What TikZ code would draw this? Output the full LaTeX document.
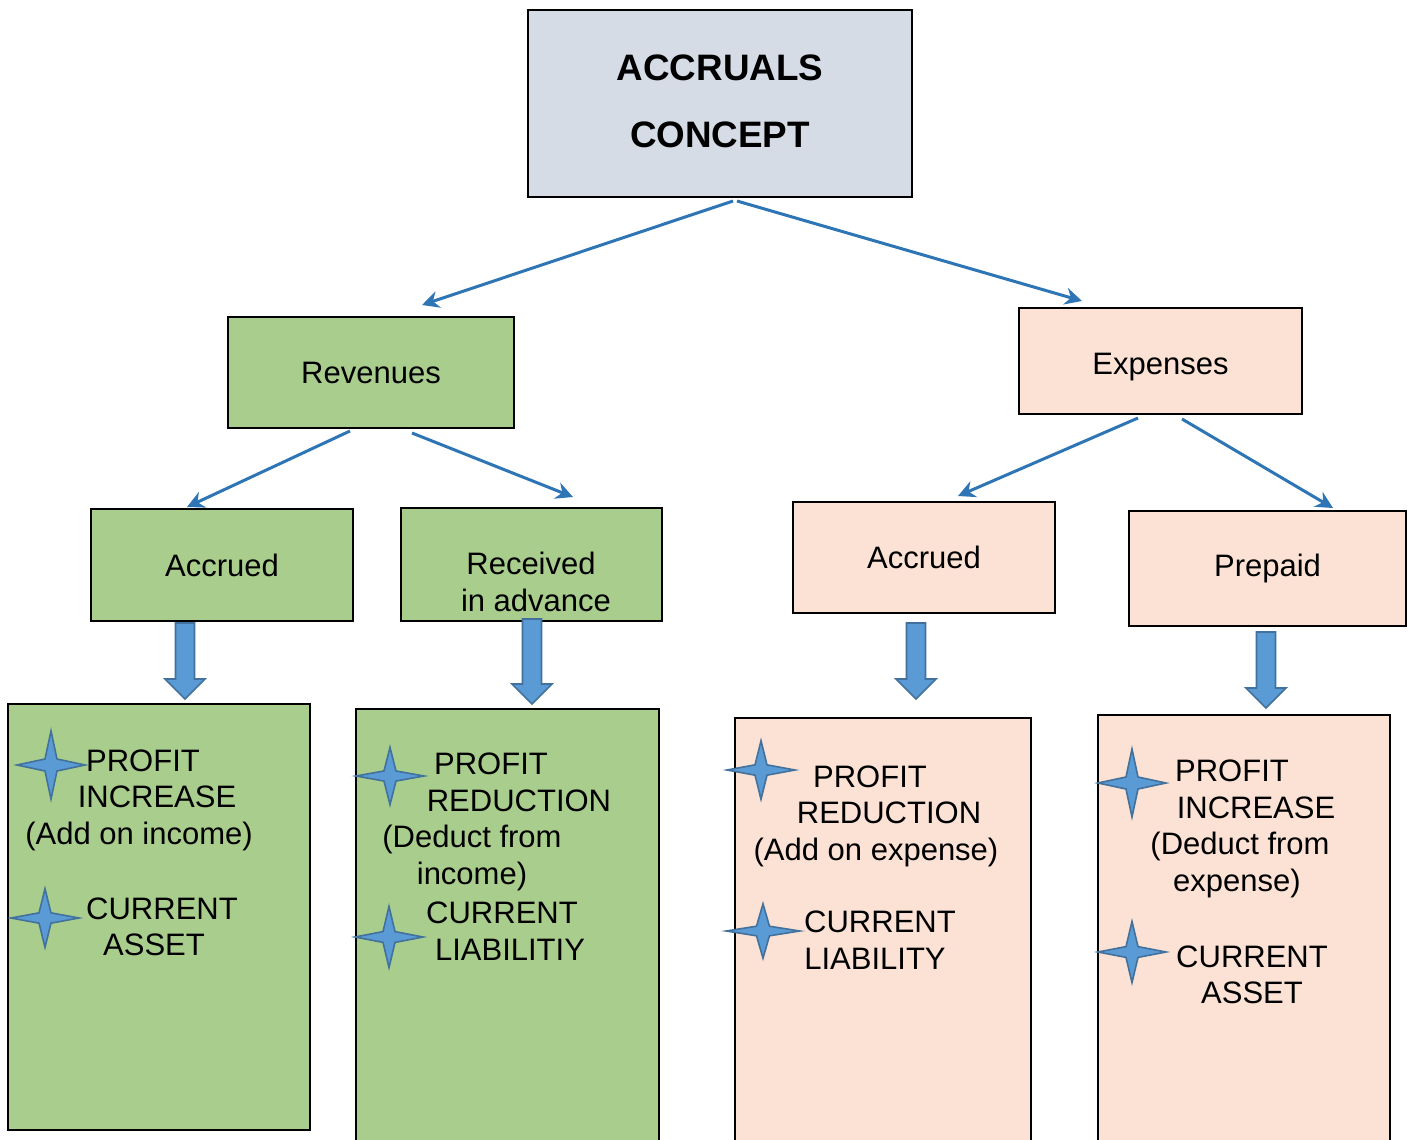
\documentclass[tikz,border=0pt]{standalone}
\usepackage{fontspec}
\setmainfont{Liberation Sans}
\usetikzlibrary{arrows.meta,calc}
\definecolor{topgrey}{HTML}{D6DCE5}
\definecolor{revgreen}{HTML}{A9CD8D}
\definecolor{exppeach}{HTML}{FBE2D5}
\definecolor{linkblue}{HTML}{2E75B6}
\definecolor{arrfill}{HTML}{5B9BD5}
\definecolor{arredge}{HTML}{41719C}
\tikzset{
  box/.style={rectangle, draw=black, line width=1pt, inner sep=0pt, text centered,
    font=\fontsize{15.5}{18.3}\selectfont},
  topbox/.style={box, fill=topgrey, align=center, text depth=2pt,
    font=\bfseries\fontsize{18.4}{33.5}\selectfont},
  revbox/.style={box, fill=revgreen},
  expbox/.style={box, fill=exppeach},
  txt/.style={align=center, inner sep=0pt, font=\fontsize{15.5}{18.3}\selectfont},
  link/.style={draw=linkblue, line width=1.5pt, -{Stealth[length=8.5pt,width=8.5pt]}},
  blkarrow/.style={fill=arrfill, draw=arredge, line width=0.8pt, line join=miter},
  star4/.pic={\draw[fill=arrfill, draw=arredge, line width=0.8pt]
    (34,0) -- (6,6) -- (0,34) -- (-6,6) -- (-34,0) -- (-6,-6) -- (0,-34) -- (6,-6) -- cycle;}
}
% fat down arrow: x from #1, tip at the height of #2
\newcommand{\blkdown}[2]{%
  \draw[blkarrow] let \p1=(#1), \p2=(#2) in
    (\x1-4.75pt,\y1) -- (\x1+4.75pt,\y1) -- (\x1+4.75pt,\y2+10pt) -- (\x1+10pt,\y2+10pt)
    -- (\x1,\y2) -- (\x1-10pt,\y2+10pt) -- (\x1-4.75pt,\y2+10pt) -- cycle;}
% line moved sideways inside a centred block
\newcommand{\mv}[1]{\hspace*{#1pt}}

\begin{document}
\begin{tikzpicture}[x=0.5pt, y=-0.5pt]
    \path[clip] (0,0) rectangle (1414,1140);
    \fill[white] (0,0) rectangle (1414,1140);

    % top level
    \node[topbox, minimum width=192pt, minimum height=93.5pt] (accr) at (720,103.5) {ACCRUALS\\CONCEPT};

    % second level
    \node[revbox, minimum width=143pt, minimum height=55.5pt] (rev) at (371,372.5) {Revenues};
    \node[expbox, minimum width=141.5pt, minimum height=53pt, text height=13pt, text depth=0pt] (exp) at (1160.5,361) {Expenses};

    % third level
    \node[revbox, minimum width=131pt, minimum height=56pt] (racc) at (222,565) {Accrued};
    \node[revbox, minimum width=130.5pt, minimum height=56.5pt] (radv) at (531.5,564.5) {};
    \node[txt] (radvtxt) at (534,582) {\mv{-3}Received\\ \mv{2}in advance};
    \node[expbox, minimum width=131pt, minimum height=55.5pt] (eacc) at (924,557.5) {Accrued};
    \node[expbox, minimum width=138.5pt, minimum height=57.5pt] (prep) at (1267.5,568.5) {Prepaid};

    % effect boxes
    \node[revbox, minimum width=151pt, minimum height=213pt] (effa) at (159,917) {};
    \node[revbox, minimum width=151.5pt, minimum height=225.5pt] (effb) at (507.5,934.5) {};
    \node[expbox, minimum width=148pt, minimum height=221pt] (effc) at (883,939) {};
    \node[expbox, minimum width=146pt, minimum height=222.5pt] (effd) at (1244,937.5) {};

    % thin links
    \draw[link] ($(accr.south)+(13,3)$) -- ($(rev.north)+(51,-11)$);
    \draw[link] ($(accr.south)+(17,3)$) -- ($(exp.north)+(-78.5,-6)$);
    \draw[link] ($(rev.south)+(-21,2)$) -- ($(racc.north)+(-35,-1)$);
    \draw[link] ($(rev.south)+(41,4)$) -- ($(radv.north)+(41.5,-10)$);
    \draw[link] ($(exp.south)+(-22.5,3)$) -- ($(eacc.north)+(34,-5)$);
    \draw[link] ($(exp.south)+(21.5,4)$) -- ($(prep.north)+(65.5,-2)$);

    % fat arrows
    \blkdown{$(racc.south)+(-37,1)$}{$(effa.north)+(0,-4)$}
    \blkdown{$(radv.south)+(0.5,-3)$}{$(effb.north)+(0,-4)$}
    \blkdown{$(eacc.south)+(-8,9)$}{$(effc.north)+(0,-18)$}
    \blkdown{$(prep.south)+(-1.5,5)$}{$(effd.north)+(0,-6)$}

    % stars
    \pic at (51,765) {star4};
    \pic[yscale=0.86] at (45,918) {star4};
    \pic[yscale=0.84] at (390,776) {star4};
    \pic[yscale=0.9] at (389,937) {star4};
    \pic[yscale=0.86] at (761,770) {star4};
    \pic[xscale=1.08, yscale=0.8] at (763,931) {star4};
    \pic at (1132,783) {star4};
    \pic[yscale=0.9] at (1132,952) {star4};

    % texts
    \node[txt] (effa1) at (146,800) {\mv{-3}PROFIT\\ \mv{11}INCREASE\\ \mv{-7}(Add on income)};
    \node[txt] (effa2) at (158,927) {\mv{4}CURRENT\\ \mv{-4}ASSET};
    \node[txt] (effb1) at (488,822) {\mv{3}PROFIT\\ \mv{31}REDUCTION\\ \mv{-16}(Deduct from\\ \mv{-16}income)};
    \node[txt] (effb2) at (506,931) {\mv{-4}CURRENT\\ \mv{4}LIABILITIY};
    \node[txt] (effc1) at (878,816) {\mv{-8}PROFIT\\ \mv{11}REDUCTION\\ \mv{-2}(Add on expense)};
    \node[txt] (effc2) at (877,940) {\mv{3}CURRENT\\ \mv{-2}LIABILITY};
    \node[txt] (effd1) at (1241,829) {\mv{-9}PROFIT\\ \mv{15}INCREASE\\ \mv{-1}(Deduct from\\ \mv{-4}expense)};
    \node[txt] (effd2) at (1252,975) {CURRENT\\ ASSET};
\end{tikzpicture}
\end{document}
